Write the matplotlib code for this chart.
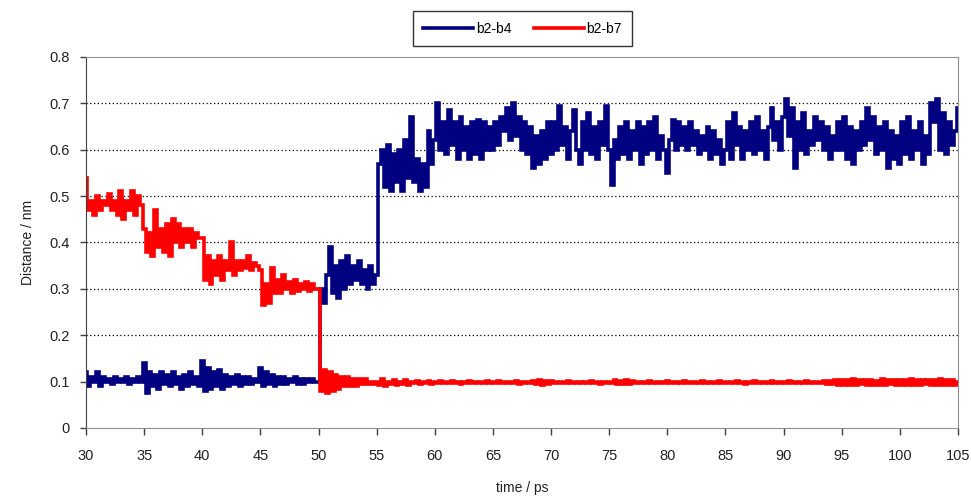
import numpy as np
import matplotlib.pyplot as plt

# distance traces, one value every 0.25 ps from 30 to 105 ps
t_start = 30.0
t_step = 0.25

b2_b4 = [
    # 30-35
    0.12, 0.09, 0.11, 0.10, 0.12, 0.09, 0.11, 0.10, 0.105, 0.095, 0.11, 0.10, 0.105, 0.10, 0.11, 0.095, 0.105, 0.10, 0.11, 0.10,
    # 35-40
    0.14, 0.075, 0.12, 0.09, 0.115, 0.085, 0.12, 0.095, 0.115, 0.09, 0.12, 0.095, 0.11, 0.085, 0.115, 0.09, 0.12, 0.095, 0.11, 0.09,
    # 40-45
    0.145, 0.08, 0.13, 0.085, 0.12, 0.09, 0.125, 0.085, 0.115, 0.09, 0.11, 0.095, 0.115, 0.09, 0.11, 0.095, 0.11, 0.095, 0.105, 0.10,
    # 45-50
    0.13, 0.09, 0.12, 0.095, 0.115, 0.09, 0.11, 0.095, 0.11, 0.095, 0.105, 0.10, 0.11, 0.095, 0.105, 0.095, 0.105, 0.10, 0.105, 0.10,
    # 50-55
    0.10, 0.30, 0.27, 0.33, 0.39, 0.29, 0.35, 0.28, 0.36, 0.30, 0.37, 0.31, 0.35, 0.32, 0.36, 0.31, 0.34, 0.30, 0.35, 0.31,
    # 55-60
    0.33, 0.57, 0.60, 0.52, 0.61, 0.51, 0.59, 0.53, 0.60, 0.51, 0.62, 0.54, 0.67, 0.53, 0.58, 0.51, 0.57, 0.52, 0.64, 0.57,
    # 60-65
    0.62, 0.70, 0.60, 0.66, 0.59, 0.685, 0.61, 0.66, 0.58, 0.67, 0.60, 0.65, 0.58, 0.66, 0.59, 0.665, 0.58, 0.66, 0.60, 0.65,
    # 65-70
    0.60, 0.66, 0.61, 0.67, 0.64, 0.69, 0.62, 0.70, 0.63, 0.67, 0.60, 0.66, 0.59, 0.65, 0.56, 0.63, 0.57, 0.64, 0.58, 0.66,
    # 70-75
    0.59, 0.66, 0.60, 0.695, 0.61, 0.65, 0.58, 0.64, 0.685, 0.60, 0.57, 0.66, 0.60, 0.68, 0.59, 0.65, 0.58, 0.66, 0.61, 0.695,
    # 75-80
    0.60, 0.524, 0.62, 0.58, 0.65, 0.59, 0.66, 0.58, 0.64, 0.60, 0.66, 0.57, 0.65, 0.59, 0.66, 0.60, 0.67, 0.58, 0.63, 0.60,
    # 80-85
    0.55, 0.62, 0.665, 0.60, 0.66, 0.61, 0.65, 0.60, 0.66, 0.61, 0.64, 0.59, 0.63, 0.60, 0.65, 0.58, 0.64, 0.59, 0.62, 0.57,
    # 85-90
    0.60, 0.66, 0.58, 0.68, 0.61, 0.65, 0.58, 0.64, 0.60, 0.66, 0.59, 0.67, 0.60, 0.64, 0.58, 0.65, 0.69, 0.62, 0.66, 0.60,
    # 90-95
    0.67, 0.71, 0.63, 0.69, 0.56, 0.66, 0.60, 0.68, 0.59, 0.64, 0.61, 0.67, 0.62, 0.66, 0.60, 0.65, 0.58, 0.63, 0.60, 0.66,
    # 95-100
    0.60, 0.67, 0.58, 0.65, 0.57, 0.64, 0.60, 0.66, 0.61, 0.69, 0.62, 0.67, 0.59, 0.65, 0.60, 0.66, 0.56, 0.64, 0.58, 0.63,
    # 100-105
    0.57, 0.66, 0.59, 0.67, 0.58, 0.64, 0.60, 0.66, 0.57, 0.63, 0.59, 0.70, 0.66, 0.71, 0.60, 0.68, 0.59, 0.66, 0.61, 0.64,
    0.69,
]

b2_b7 = [
    # 30-35
    0.54, 0.47, 0.49, 0.46, 0.50, 0.47, 0.49, 0.48, 0.505, 0.47, 0.49, 0.46, 0.51, 0.45, 0.49, 0.47, 0.51, 0.46, 0.50, 0.48,
    # 35-40
    0.43, 0.38, 0.42, 0.37, 0.47, 0.39, 0.43, 0.38, 0.44, 0.37, 0.45, 0.40, 0.44, 0.39, 0.43, 0.40, 0.43, 0.39, 0.42, 0.41,
    # 40-45
    0.41, 0.32, 0.37, 0.31, 0.36, 0.33, 0.37, 0.32, 0.36, 0.34, 0.40, 0.33, 0.36, 0.34, 0.36, 0.345, 0.37, 0.34, 0.355, 0.35,
    # 45-50
    0.34, 0.265, 0.31, 0.27, 0.346, 0.29, 0.32, 0.29, 0.33, 0.30, 0.315, 0.29, 0.32, 0.295, 0.31, 0.30, 0.315, 0.295, 0.31, 0.30,
    # 50-55
    0.30, 0.08, 0.125, 0.075, 0.12, 0.08, 0.115, 0.085, 0.11, 0.09, 0.11, 0.09, 0.105, 0.09, 0.105, 0.095, 0.105, 0.095, 0.10, 0.095,
    # 55-60
    0.10, 0.093, 0.105, 0.09, 0.10, 0.094, 0.104, 0.092, 0.10, 0.095, 0.103, 0.093, 0.10, 0.096, 0.102, 0.094, 0.10, 0.096, 0.101, 0.095,
    # 60-65
    0.10, 0.096, 0.101, 0.097, 0.10, 0.096, 0.102, 0.097, 0.10, 0.095, 0.10, 0.097, 0.101, 0.096, 0.10, 0.097, 0.10, 0.096, 0.101, 0.097,
    # 65-70
    0.10, 0.096, 0.102, 0.097, 0.10, 0.096, 0.10, 0.097, 0.101, 0.095, 0.10, 0.097, 0.10, 0.096, 0.101, 0.094, 0.103, 0.093, 0.102, 0.095,
    # 70-75
    0.101, 0.097, 0.10, 0.096, 0.10, 0.097, 0.101, 0.097, 0.10, 0.096, 0.10, 0.097, 0.10, 0.096, 0.101, 0.097, 0.10, 0.094, 0.10, 0.097,
    # 75-80
    0.10, 0.096, 0.103, 0.094, 0.102, 0.095, 0.103, 0.094, 0.101, 0.097, 0.10, 0.096, 0.10, 0.097, 0.101, 0.096, 0.10, 0.097, 0.10, 0.096,
    # 80-85
    0.101, 0.097, 0.10, 0.096, 0.10, 0.097, 0.101, 0.096, 0.10, 0.097, 0.10, 0.096, 0.101, 0.097, 0.10, 0.096, 0.10, 0.097, 0.101, 0.096,
    # 85-90
    0.10, 0.097, 0.10, 0.096, 0.101, 0.097, 0.10, 0.094, 0.10, 0.097, 0.101, 0.096, 0.10, 0.097, 0.10, 0.096, 0.101, 0.097, 0.10, 0.096,
    # 90-95
    0.10, 0.097, 0.101, 0.096, 0.10, 0.097, 0.10, 0.096, 0.101, 0.097, 0.10, 0.096, 0.10, 0.097, 0.101, 0.095, 0.102, 0.094, 0.103, 0.093,
    # 95-100
    0.104, 0.092, 0.103, 0.093, 0.105, 0.092, 0.104, 0.094, 0.103, 0.092, 0.104, 0.093, 0.102, 0.092, 0.105, 0.093, 0.103, 0.094, 0.104, 0.092,
    # 100-105
    0.103, 0.093, 0.104, 0.092, 0.105, 0.093, 0.103, 0.092, 0.104, 0.094, 0.103, 0.092, 0.104, 0.093, 0.105, 0.092, 0.103, 0.093, 0.104, 0.092,
    0.10,
]

x_ticks = list(range(30, 106, 5))
y_ticks = [0, 0.1, 0.2, 0.3, 0.4, 0.5, 0.6, 0.7, 0.8]
y_tick_labels = ['0', '0.1', '0.2', '0.3', '0.4', '0.5', '0.6', '0.7', '0.8']

time = t_start + t_step * np.arange(len(b2_b4))

plt.rcParams['font.family'] = ['Liberation Sans', 'DejaVu Sans']

fig = plt.figure(figsize=(9.71, 4.98), dpi=100)
ax = fig.add_axes([0.0886, 0.1406, 0.8980, 0.7450])

ax.plot(time, b2_b4, color='#000080', lw=2.6, drawstyle='steps-mid',
        solid_joinstyle='miter', label='b2-b4')
ax.plot(time, b2_b7, color='#ff0000', lw=2.6, drawstyle='steps-mid',
        solid_joinstyle='miter', label='b2-b7')

ax.set_xlim(30, 105)
ax.set_ylim(0, 0.8)
ax.set_xticks(x_ticks)
ax.set_yticks(y_ticks)
ax.set_yticklabels(y_tick_labels)
for v in y_ticks[1:-1]:
    ax.axhline(v, color='black', lw=0.9, ls=(0, (1, 2)), zorder=0)

for side in ['top', 'right', 'bottom']:
    ax.spines[side].set_color('#909090')
ax.spines['left'].set_color('#404040')
ax.tick_params(axis='both', direction='out', length=5, width=1, color='#404040',
               labelsize=10.5, labelcolor='#222222', pad=10)
ax.tick_params(axis='y', length=4, pad=8)

ax.set_xlabel('time / ps', fontsize=10, color='#222222', labelpad=13)
ax.set_ylabel('Distance / nm', fontsize=10, color='#222222', labelpad=10)

leg = fig.legend(loc='center', bbox_to_anchor=(0.538, 0.942), ncol=2, frameon=True,
                 fancybox=False, edgecolor='black', fontsize=10, handlelength=3.6,
                 handletextpad=0.2, columnspacing=1.6, borderpad=0.75)
leg.get_frame().set_linewidth(1)

fig.savefig('out.png', dpi=100)
